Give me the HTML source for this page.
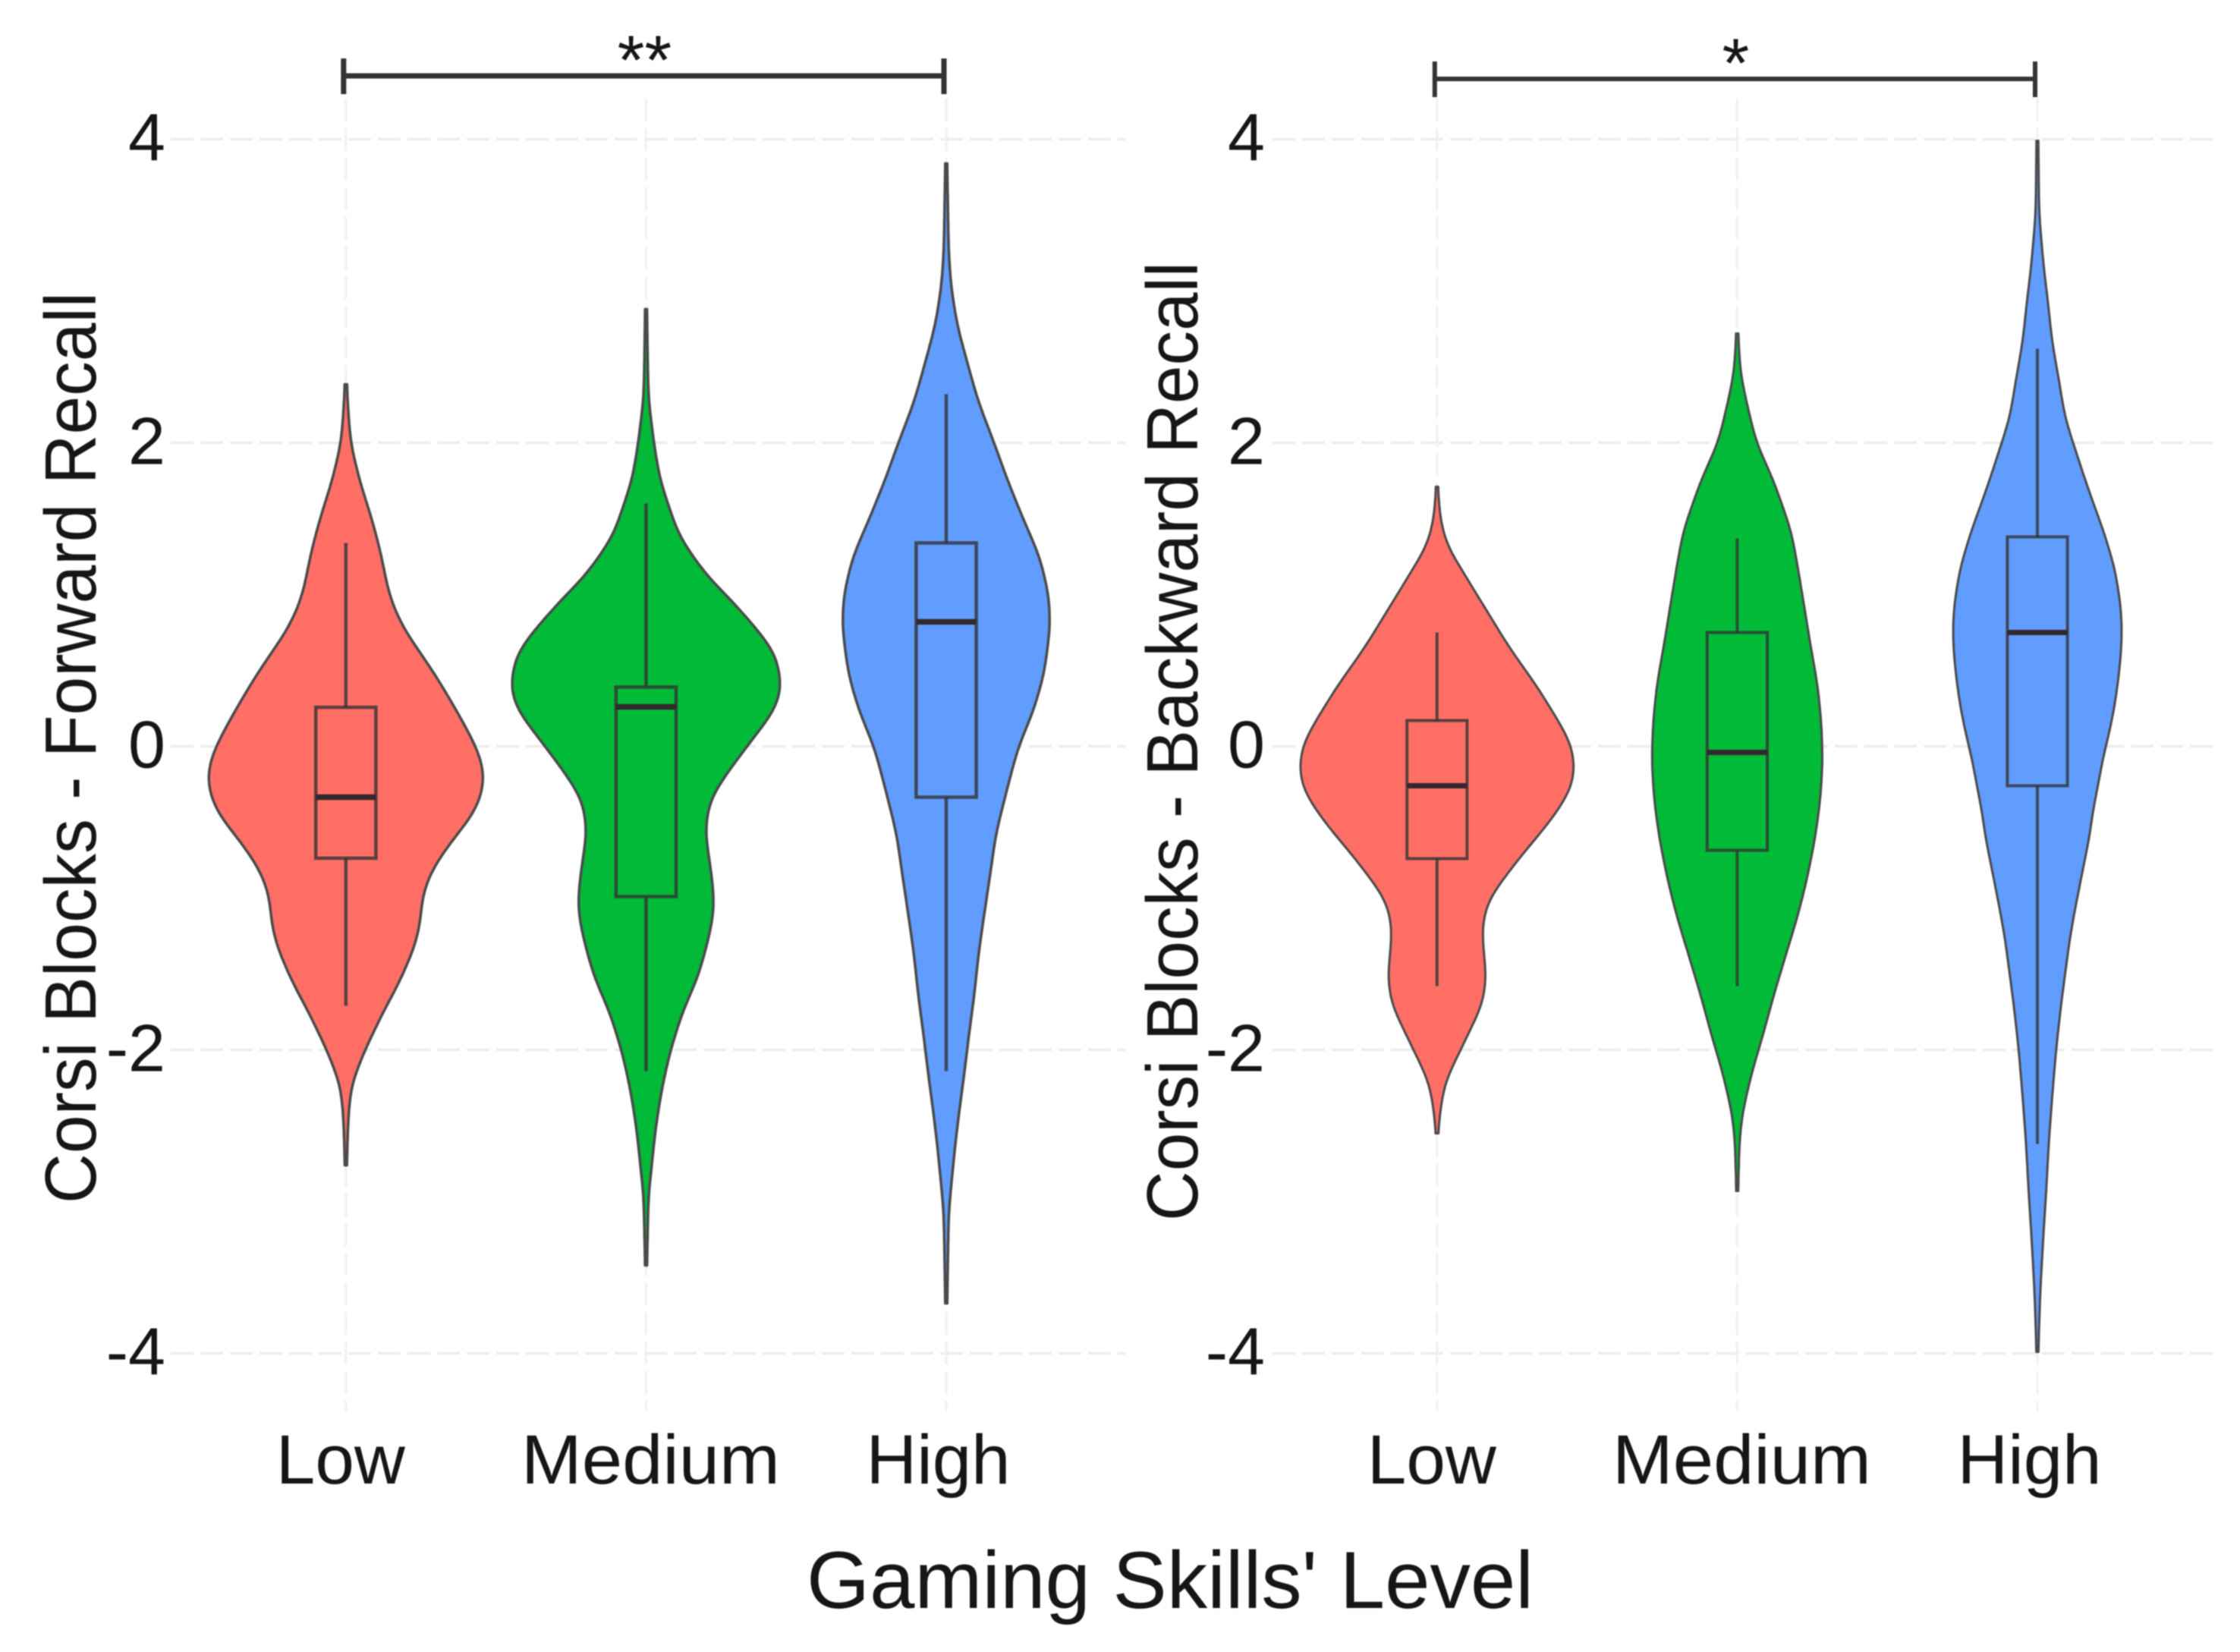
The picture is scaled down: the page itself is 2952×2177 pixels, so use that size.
<!DOCTYPE html>
<html lang="en">
<head>
<meta charset="utf-8">
<title>Corsi Blocks recall by gaming skills level</title>
<style>
  html, body { margin: 0; padding: 0; background: #ffffff; }
  #chart { display: block; width: 2952px; height: 2177px; filter: blur(0.9px); }
  text { font-family: "Liberation Sans", "DejaVu Sans", sans-serif; fill: #161616; }
</style>
</head>
<body>
<svg id="chart" xmlns="http://www.w3.org/2000/svg" width="2952" height="2177" viewBox="0 0 2952 2177">
  <rect x="0" y="0" width="2952" height="2177" fill="#ffffff"/>
  <g id="grid-layer"></g>
  <g id="mark-layer"></g>
  <g id="label-layer"></g>
  <text transform="translate(126 1586) rotate(-90)" font-size="96" textLength="1201" lengthAdjust="spacingAndGlyphs">Corsi Blocks - Forward Recall</text>
  <text transform="translate(1578 1609) rotate(-90)" font-size="96" textLength="1264" lengthAdjust="spacingAndGlyphs">Corsi Blocks - Backward Recall</text>
  <text x="1063" y="2119" font-size="107" textLength="958" lengthAdjust="spacingAndGlyphs">Gaming Skills' Level</text>
</svg>
<script>
const categories = ['Low', 'Medium', 'High'];
const yTicks = [4, 2, 0, -2, -4];
const yTickLabels = ['4', '2', '0', '-2', '-4'];
const significanceLabels = ['**', '*'];
const seriesColors = ['#FF6F66', '#00BA38', '#619CFF'];

/* Violin profiles: score value and relative density at that value. */
const forwardLowValues = [2.385, 2.2, 2.0, 1.75, 1.5, 1.25, 1.08, 0.92, 0.75, 0.58, 0.42, 0.25, 0.08, -0.08, -0.215, -0.33, -0.45, -0.58, -0.75, -0.87, -1.0, -1.17, -1.33, -1.58, -1.71, -2.0, -2.23, -2.44, -2.76];
const forwardLowDensity = [0, 0.011, 0.028, 0.094, 0.183, 0.256, 0.289, 0.339, 0.433, 0.567, 0.683, 0.794, 0.9, 0.985, 1.01, 0.985, 0.928, 0.806, 0.667, 0.594, 0.55, 0.539, 0.494, 0.372, 0.289, 0.133, 0.033, 0.011, 0];
const forwardMediumValues = [2.88, 2.5, 2.295, 2.0, 1.76, 1.504, 1.376, 1.25, 1.12, 0.995, 0.87, 0.74, 0.61, 0.38, 0.23, 0.08, -0.10, -0.23, -0.36, -0.56, -0.74, -0.92, -1.07, -1.25, -1.51, -1.76, -2.02, -2.27, -2.53, -2.78, -2.96, -3.42];
const forwardMediumDensity = [0, 0.006, 0.011, 0.05, 0.094, 0.189, 0.239, 0.339, 0.439, 0.583, 0.711, 0.833, 0.945, 0.99, 0.933, 0.8, 0.65, 0.544, 0.456, 0.425, 0.456, 0.483, 0.494, 0.456, 0.378, 0.256, 0.167, 0.106, 0.061, 0.033, 0.011, 0];
const forwardHighValues = [3.84, 3.26, 3.035, 2.78, 2.53, 2.27, 2.0, 1.76, 1.50, 1.25, 0.995, 0.79, 0.48, 0.23, 0, -0.28, -0.58, -0.87, -1.12, -1.38, -1.63, -1.89, -2.14, -2.40, -2.65, -2.91, -3.08, -3.67];
const forwardHighDensity = [0, 0.011, 0.028, 0.072, 0.147, 0.228, 0.344, 0.439, 0.556, 0.678, 0.745, 0.755, 0.711, 0.631, 0.522, 0.439, 0.356, 0.311, 0.269, 0.228, 0.2, 0.161, 0.128, 0.089, 0.056, 0.028, 0.011, 0];
const backwardLowValues = [1.71, 1.55, 1.42, 1.29, 1.17, 1.04, 0.91, 0.65, 0.40, 0.14, 0.01, -0.14, -0.29, -0.50, -0.75, -1.01, -1.18, -1.34, -1.52, -1.70, -1.90, -2.0, -2.2, -2.36, -2.55];
const backwardLowDensity = [0, 0.011, 0.033, 0.083, 0.172, 0.256, 0.347, 0.522, 0.722, 0.9, 0.98, 1.005, 0.975, 0.817, 0.583, 0.367, 0.322, 0.333, 0.356, 0.328, 0.219, 0.167, 0.056, 0.022, 0];
const backwardMediumValues = [2.72, 2.46, 2.29, 2.0, 1.76, 1.42, 1.17, 0.91, 0.65, 0.40, 0.14, -0.11, -0.37, -0.62, -0.88, -1.13, -1.39, -1.64, -1.90, -2.15, -2.41, -2.58, -2.93];
const backwardMediumDensity = [0, 0.017, 0.056, 0.133, 0.256, 0.389, 0.439, 0.486, 0.533, 0.583, 0.611, 0.619, 0.6, 0.561, 0.503, 0.433, 0.344, 0.261, 0.183, 0.1, 0.033, 0.011, 0];
const backwardHighValues = [3.99, 3.51, 3.16, 2.92, 2.67, 2.42, 2.17, 1.92, 1.67, 1.42, 1.17, 0.92, 0.75, 0.58, 0.42, 0.25, 0.08, -0.08, -0.25, -0.42, -0.58, -0.805, -1.03, -1.25, -1.475, -1.70, -1.99, -2.26, -2.59, -2.93, -3.15, -3.37, -3.6, -3.99];
const backwardHighDensity = [0, 0.006, 0.039, 0.072, 0.1, 0.15, 0.194, 0.283, 0.375, 0.478, 0.561, 0.605, 0.613, 0.603, 0.583, 0.556, 0.517, 0.472, 0.439, 0.4, 0.378, 0.328, 0.278, 0.233, 0.2, 0.167, 0.131, 0.106, 0.078, 0.058, 0.042, 0.028, 0.014, 0];

/* Box statistics: lower whisker, Q1, median, Q3, upper whisker. */
const forwardLowBox = [-1.71, -0.737, -0.335, 0.257, 1.34];
const forwardMediumBox = [-2.14, -0.99, 0.26, 0.39, 1.6];
const forwardHighBox = [-2.14, -0.335, 0.82, 1.34, 2.32];
const backwardLowBox = [-1.58, -0.74, -0.26, 0.17, 0.75];
const backwardMediumBox = [-1.58, -0.685, -0.04, 0.75, 1.37];
const backwardHighBox = [-2.62, -0.26, 0.75, 1.38, 2.62];

const NS = 'http://www.w3.org/2000/svg';
const gridLayer = document.getElementById('grid-layer');
const markLayer = document.getElementById('mark-layer');
const labelLayer = document.getElementById('label-layer');

function yScale(v) { return 983.5 - 200 * v; }
function xScaleForward(i) { return 455.8 + 395.6 * i; }
function xScaleBackward(i) { return 1893.8 + 395.6 * i; }
function widthScale(d) { return 180 * d + 1.2; }

function make(tag, attrs, parent) {
  const el = document.createElementNS(NS, tag);
  for (const key in attrs) el.setAttribute(key, attrs[key]);
  parent.appendChild(el);
  return el;
}

/* Resample a read-off profile onto an even value grid and apply a kernel, as a KDE outline would look. */
function densityProfile(values, density) {
  const top = values[0];
  const bottom = values[values.length - 1];
  const step = 0.02;
  const grid = [];
  const raw = [];
  let seg = 0;
  for (let v = top; v > bottom; v -= step) {
    while (seg < values.length - 2 && v < values[seg + 1]) seg++;
    const t = (values[seg] - v) / (values[seg] - values[seg + 1]);
    grid.push(v);
    raw.push(density[seg] + t * (density[seg + 1] - density[seg]));
  }
  grid.push(bottom);
  raw.push(density[density.length - 1]);
  const sigma = 0.08;
  const reach = Math.ceil(3 * sigma / step);
  const smooth = raw.map(function (_, i) {
    let sum = 0;
    let weight = 0;
    for (let k = i - reach; k <= i + reach; k++) {
      const u = (k - i) * step / sigma;
      const w = Math.exp(-0.5 * u * u);
      const sample = k < 0 || k >= raw.length ? 0 : raw[k];
      sum += w * sample;
      weight += w;
    }
    return sum / weight;
  });
  return grid.map(function (v, i) { return [v, smooth[i]]; });
}

function drawViolin(center, values, density, color, prefix, sw) {
  const profile = densityProfile(values, density);
  const right = profile.map(function (p) { return (center + widthScale(p[1])).toFixed(1) + ' ' + yScale(p[0]).toFixed(1); });
  const left = profile.map(function (p) { return (center - widthScale(p[1])).toFixed(1) + ' ' + yScale(p[0]).toFixed(1); }).reverse();
  const d = 'M' + right.join(' L') + ' L' + left.join(' L') + ' Z';
  const path = make('path', { d: d, fill: color, stroke: '#4a4a4a', 'stroke-width': sw, 'stroke-linejoin': 'round' }, markLayer);
  
  
}

function drawBox(center, stats, prefix, sw) {
  const half = 39.6;
  const stroke = '#333333';
  const upper = make('line', { x1: center, x2: center, y1: yScale(stats[3]), y2: yScale(stats[4]), stroke: stroke, 'stroke-opacity': 0.8, 'stroke-width': sw }, markLayer);
  
  
  const lower = make('line', { x1: center, x2: center, y1: yScale(stats[1]), y2: yScale(stats[0]), stroke: stroke, 'stroke-opacity': 0.8, 'stroke-width': sw }, markLayer);
  
  
  const box = make('rect', { x: center - half, width: 2 * half, y: yScale(stats[3]), height: yScale(stats[1]) - yScale(stats[3]), fill: 'none', stroke: stroke, 'stroke-opacity': 0.8, 'stroke-width': sw }, markLayer);
  
  
  const median = make('line', { x1: center - half, x2: center + half, y1: yScale(stats[2]), y2: yScale(stats[2]), stroke: '#33282c', 'stroke-width': sw + 3 }, markLayer);
  
  
}

function drawPanel(prefix, xScale, gridStart, gridEnd, tickRight, violins, boxes, sigLabel, bracketY, barWidth, markWidth) {
  const nudges = [-7, 6, -10.5];
  const lengths = [170, 341, 190];

  yTicks.forEach(function (tick, i) {
    const grid = make('line', { x1: gridStart, x2: gridEnd, y1: yScale(tick), y2: yScale(tick), stroke: '#ececec', 'stroke-width': 3.5, 'stroke-dasharray': '30 9' }, gridLayer);
    
    
    const label = make('text', { x: tickRight, y: yScale(tick) + 28, 'font-size': 88, 'text-anchor': 'end' }, labelLayer);
    label.textContent = yTickLabels[i];
    
    
  });

  categories.forEach(function (cat, i) {
    const grid = make('line', { x1: xScale(i), x2: xScale(i), y1: 130, y2: 1860, stroke: '#f0f0f0', 'stroke-width': 3, 'stroke-dasharray': '30 9' }, gridLayer);
    
    
    const label = make('text', { x: xScale(i) + nudges[i], y: 1955, 'font-size': 92, 'text-anchor': 'middle', textLength: lengths[i], lengthAdjust: 'spacingAndGlyphs' }, labelLayer);
    label.textContent = cat;
    
    
    const catPrefix = prefix + '-' + cat.toLowerCase();
    drawViolin(xScale(i), violins[i][0], violins[i][1], seriesColors[i], catPrefix, markWidth);
    drawBox(xScale(i), boxes[i], catPrefix, markWidth + 1);
  });

  const x0 = xScale(0) - 3;
  const x1 = xScale(2) - 3;
  const bar = make('path', { d: 'M' + x0 + ' ' + (bracketY - 23) + ' V' + (bracketY + 24) + ' M' + x0 + ' ' + bracketY + ' H' + x1 + ' M' + x1 + ' ' + (bracketY - 23) + ' V' + (bracketY + 24), fill: 'none', stroke: '#333333', 'stroke-width': barWidth }, labelLayer);
  
  
  const star = make('text', { x: xScale(1) - 2, y: bracketY + 11, 'font-size': 92, 'text-anchor': 'middle' }, labelLayer);
  star.textContent = sigLabel;
  
  
}

drawPanel('forward', xScaleForward, 225, 1483, 218,
  [[forwardLowValues, forwardLowDensity], [forwardMediumValues, forwardMediumDensity], [forwardHighValues, forwardHighDensity]],
  [forwardLowBox, forwardMediumBox, forwardHighBox],
  significanceLabels[0], 100, 7, 3.5);

drawPanel('backward', xScaleBackward, 1677, 2919, 1667,
  [[backwardLowValues, backwardLowDensity], [backwardMediumValues, backwardMediumDensity], [backwardHighValues, backwardHighDensity]],
  [backwardLowBox, backwardMediumBox, backwardHighBox],
  significanceLabels[1], 104, 6, 3);
</script>
</body>
</html>
